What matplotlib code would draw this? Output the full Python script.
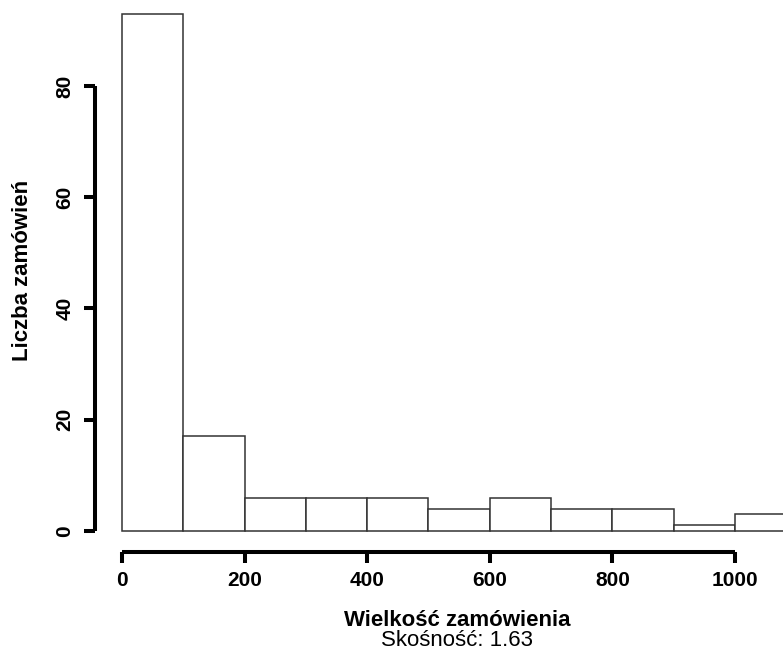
import matplotlib

matplotlib.use("Agg")
import matplotlib.pyplot as plt
import numpy as np

# Histogram of order sizes (bins of width 100)
bin_edges = [0, 100, 200, 300, 400, 500, 600, 700, 800, 900, 1000, 1100]
counts = [93, 17, 6, 6, 6, 4, 6, 4, 4, 1, 3]
x_ticks = [0, 200, 400, 600, 800, 1000]
y_ticks = [0, 20, 40, 60, 80]
skewness = 1.63

plt.rcParams["font.family"] = ["Liberation Sans", "DejaVu Sans"]

W, H = 783, 654
fig = plt.figure(figsize=(W / 100, H / 100), dpi=100)
ax = fig.add_axes([95 / W, (H - 552) / H, 1 - 95 / W, 552 / H])

edges = np.array(bin_edges)
ax.bar(edges[:-1], counts, width=np.diff(edges), align="edge",
       facecolor="white", edgecolor="#333333", linewidth=1.1)

# R-style detached axes
ax.set_xlim(-44.0, 1078.3)
ax.set_ylim(-3.78, 95.46)
for side in ("top", "right"):
    ax.spines[side].set_visible(False)
ax.spines["left"].set_bounds(0, 80)
ax.spines["bottom"].set_bounds(0, 1000)
for side in ("left", "bottom"):
    ax.spines[side].set_linewidth(2.9)
    ax.spines[side].set_capstyle("butt")

ax.set_xticks(x_ticks)
ax.set_yticks(y_ticks)
ax.tick_params(axis="both", length=8, width=2.9, labelsize=15)
ax.tick_params(axis="x", pad=6)
ax.tick_params(axis="y", pad=7)
for lab in ax.get_xticklabels():
    lab.set_fontweight("bold")
for lab in ax.get_yticklabels():
    lab.set_fontweight("bold")
    lab.set_rotation(90)
    lab.set_va("center")

fig.text(457 / W, 1 - 620 / H, "Wielkość zamówienia", ha="center", va="center",
         fontsize=16, fontweight="bold")
fig.text(457 / W, 1 - 641 / H, f"Skośność: {skewness:.2f}", ha="center", va="center",
         fontsize=16)
fig.text(23 / W, 1 - 270 / H, "Liczba zamówień", ha="center", va="center",
         rotation=90, fontsize=16, fontweight="bold")

fig.savefig("out.png", dpi=100)
plt.close(fig)
